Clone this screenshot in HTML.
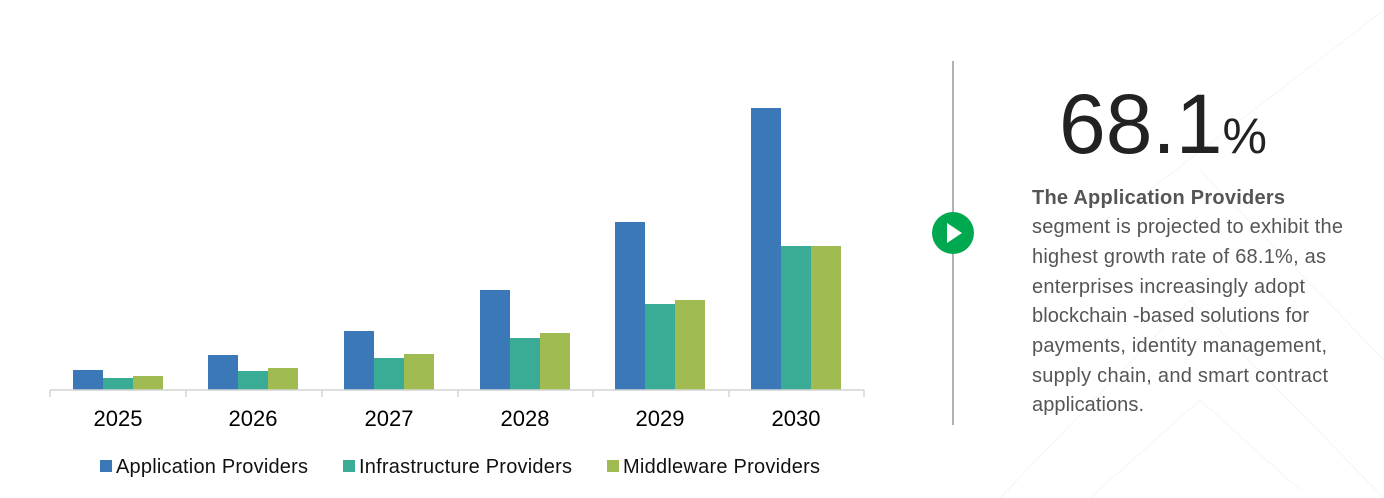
<!DOCTYPE html>
<html><head><meta charset="utf-8"><style>
html,body{margin:0;padding:0;background:#fff;overflow:hidden;}
body{width:1384px;height:498px;position:relative;overflow:hidden;font-family:"Liberation Sans",Arial,sans-serif;}
svg{display:block;}
</style></head><body>
<svg width="1384" height="498" style="position:absolute;left:0;top:0">
<g stroke="#f5f5f5" stroke-width="1" fill="none">
<polyline points="1000,498 1190,300 1384,498"/>
<polyline points="1090,498 1200,400 1300,490"/>
<line x1="1130" y1="205" x2="1384" y2="10"/>
<line x1="1200" y1="170" x2="1384" y2="360"/>
</g>
<g>
<rect x="73" y="370" width="30" height="20" fill="#3a78b8"/>
<rect x="103" y="378" width="30" height="12" fill="#3aab94"/>
<rect x="133" y="376" width="30" height="14" fill="#9fbb52"/>
<rect x="208" y="355" width="30" height="35" fill="#3a78b8"/>
<rect x="238" y="371" width="30" height="19" fill="#3aab94"/>
<rect x="268" y="368" width="30" height="22" fill="#9fbb52"/>
<rect x="344" y="331" width="30" height="59" fill="#3a78b8"/>
<rect x="374" y="358" width="30" height="32" fill="#3aab94"/>
<rect x="404" y="354" width="30" height="36" fill="#9fbb52"/>
<rect x="480" y="290" width="30" height="100" fill="#3a78b8"/>
<rect x="510" y="338" width="30" height="52" fill="#3aab94"/>
<rect x="540" y="333" width="30" height="57" fill="#9fbb52"/>
<rect x="615" y="222" width="30" height="168" fill="#3a78b8"/>
<rect x="645" y="304" width="30" height="86" fill="#3aab94"/>
<rect x="675" y="300" width="30" height="90" fill="#9fbb52"/>
<rect x="751" y="108" width="30" height="282" fill="#3a78b8"/>
<rect x="781" y="246" width="30" height="144" fill="#3aab94"/>
<rect x="811" y="246" width="30" height="144" fill="#9fbb52"/>
</g>
<g stroke="#d4d4d4" stroke-width="1.5">
<line x1="50" y1="390" x2="864" y2="390"/>
<line x1="50" y1="390" x2="50" y2="397"/><line x1="186" y1="390" x2="186" y2="397"/>
<line x1="322" y1="390" x2="322" y2="397"/><line x1="458" y1="390" x2="458" y2="397"/>
<line x1="593" y1="390" x2="593" y2="397"/><line x1="729" y1="390" x2="729" y2="397"/>
<line x1="864" y1="390" x2="864" y2="397"/>
</g>
<g font-family="Liberation Sans, Arial, sans-serif" font-size="22" fill="#000" text-anchor="middle">
<text x="118" y="426">2025</text><text x="253" y="426">2026</text><text x="389" y="426">2027</text>
<text x="525" y="426">2028</text><text x="660" y="426">2029</text><text x="796" y="426">2030</text>
</g>
<g font-family="Liberation Sans, Arial, sans-serif" font-size="20" fill="#111">
<rect x="100" y="460" width="12" height="12" fill="#3a78b8"/><text x="116" y="473" textLength="192">Application Providers</text>
<rect x="343" y="460" width="12" height="12" fill="#3aab94"/><text x="359" y="473" textLength="213">Infrastructure Providers</text>
<rect x="607" y="460" width="12" height="12" fill="#9fbb52"/><text x="623" y="473" textLength="197">Middleware Providers</text>
</g>
<line x1="953" y1="61" x2="953" y2="425" stroke="#999" stroke-width="1.5"/>
<circle cx="953" cy="233" r="21" fill="#00a94f"/>
<polygon points="947,223 947,243 962,233" fill="#fff"/>
<text x="1059" y="153" font-family="Liberation Sans, Arial, sans-serif" font-size="84" fill="#222">68.1<tspan font-size="50">%</tspan></text>
<g font-family="Liberation Sans, Arial, sans-serif" font-size="20" fill="#555">
<text x="1032" y="204" font-weight="bold" textLength="253">The Application Providers</text>
<text x="1032" y="233" textLength="311">segment is projected to exhibit the</text>
<text x="1032" y="263" textLength="294">highest growth rate of 68.1%, as</text>
<text x="1032" y="293" textLength="273">enterprises increasingly adopt</text>
<text x="1032" y="322" textLength="277">blockchain -based solutions for</text>
<text x="1032" y="352" textLength="295">payments, identity management,</text>
<text x="1032" y="382" textLength="296">supply chain, and smart contract</text>
<text x="1032" y="411" textLength="112">applications.</text>
</g>
</svg>
</body></html>
